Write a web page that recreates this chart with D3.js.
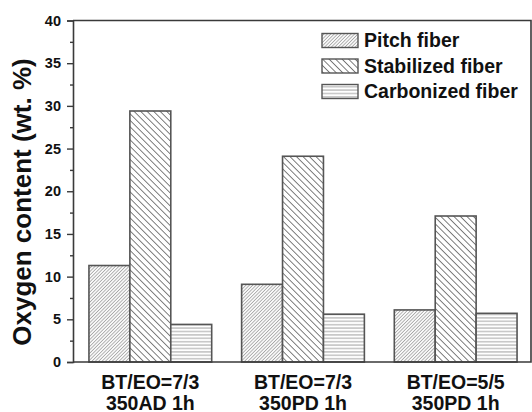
<!DOCTYPE html>
<html>
<head>
<meta charset="utf-8">
<script src="https://cdn.jsdelivr.net/npm/d3@7"></script>
<style>
  html, body { margin: 0; padding: 0; background: #fff; }
  svg { display: block; font-family: "Liberation Sans", Arial, sans-serif; font-weight: bold; }
</style>
</head>
<body>
<svg id="chart" width="532" height="412"></svg>
<script>
// Sample groups (two-line labels) and oxygen content per fiber stage
const groups = ["BT/EO=7/3|350AD 1h", "BT/EO=7/3|350PD 1h", "BT/EO=5/5|350PD 1h"];
const seriesNames = ["Pitch fiber", "Stabilized fiber", "Carbonized fiber"];
const pitch = [11.3, 9.1, 6.1];
const stabilized = [29.4, 24.1, 17.1];
const carbonized = [4.4, 5.6, 5.7];
const yTicks = [0, 5, 10, 15, 20, 25, 30, 35, 40];
const yMinorTicks = [2.5, 7.5, 12.5, 17.5, 22.5, 27.5, 32.5, 37.5];

const seriesValues = [pitch, stabilized, carbonized];
const patternIds = ["pat-pitch", "pat-stab", "pat-carb"];

const svg = d3.select("#chart");
const plotLeft = 73, plotRight = 531, plotTop = 20.5, plotBottom = 362;

// Hatch patterns
const defs = svg.append("defs");
function hatch(id, spacing, angle, color, width) {
  const p = defs.append("pattern")
    .attr("id", id)
    .attr("patternUnits", "userSpaceOnUse")
    .attr("width", spacing)
    .attr("height", 10)
    .attr("patternTransform", `rotate(${angle})`);
  p.append("rect").attr("width", spacing).attr("height", 10).attr("fill", "#fff");
  p.append("line")
    .attr("x1", spacing / 2).attr("y1", 0)
    .attr("x2", spacing / 2).attr("y2", 10)
    .attr("stroke", color).attr("stroke-width", width);
}
hatch("pat-pitch", 2.4, 45, "#a6a6a6", 0.9);
hatch("pat-stab", 4.6, -45, "#747474", 0.95);
hatch("pat-carb", 3.4, 90, "#a4a4a4", 1);

// Scales
const y = d3.scaleLinear().domain([0, 40]).range([plotBottom, plotTop]);
const x0 = d3.scaleBand().domain(groups).range([72, 534])
  .paddingInner(0.196).paddingOuter(0.111);
const x1 = d3.scaleBand().domain(seriesNames).range([0, x0.bandwidth()]).padding(0);

// Bars
const g = svg.append("g");
groups.forEach((grp, gi) => {
  seriesNames.forEach((s, si) => {
    const v = seriesValues[si][gi];
    g.append("rect")
      .attr("x", x0(grp) + x1(s))
      .attr("y", y(v))
      .attr("width", x1.bandwidth())
      .attr("height", y(0) - y(v))
      .attr("fill", `url(#${patternIds[si]})`)
      .attr("stroke", "#555")
      .attr("stroke-width", 1.6);
  });
});

// Frame (top, right, bottom lines)
svg.append("path")
  .attr("d", `M${plotLeft},${plotTop}H${plotRight}V${plotBottom}H${plotLeft}`)
  .attr("fill", "none").attr("stroke", "#3a3a3a").attr("stroke-width", 1.6);

// Y axis with major and minor ticks
const yAxis = svg.append("g").attr("transform", `translate(${plotLeft},0)`)
  .call(d3.axisLeft(y).tickValues(yTicks).tickSize(6).tickPadding(6).tickFormat(d3.format("d")));
yAxis.select(".domain").attr("stroke", "#3a3a3a").attr("stroke-width", 1.6);
yAxis.selectAll(".tick line").attr("stroke", "#3a3a3a").attr("stroke-width", 1.4);
yAxis.selectAll(".tick text")
  .attr("font-size", 14.5).attr("font-weight", "bold").attr("fill", "#111")
  .attr("font-family", "Liberation Sans, Arial, sans-serif");

const yMinor = svg.append("g").attr("transform", `translate(${plotLeft},0)`)
  .call(d3.axisLeft(y).tickValues(yMinorTicks).tickSize(3).tickFormat(""));
yMinor.select(".domain").remove();
yMinor.selectAll(".tick line").attr("stroke", "#3a3a3a").attr("stroke-width", 1.4);

// Y axis title
svg.append("text")
  .attr("transform", `translate(31,202) rotate(-90)`)
  .attr("text-anchor", "middle")
  .attr("font-size", 26)
  .attr("fill", "#111")
  .text("Oxygen content (wt. %)");

// X category labels
groups.forEach(grp => {
  const [l1, l2] = grp.split("|");
  const cx = x0(grp) + x0.bandwidth() / 2;
  const t = svg.append("text")
    .attr("text-anchor", "middle")
    .attr("font-size", 19.5)
    .attr("fill", "#111");
  t.append("tspan").attr("x", cx).attr("y", 388.5).text(l1);
  t.append("tspan").attr("x", cx).attr("y", 409.5).text(l2);
});

// Legend
const legend = svg.append("g");
seriesNames.forEach((s, i) => {
  const ly = 33.5 + i * 25.5;
  legend.append("rect")
    .attr("x", 322).attr("y", ly)
    .attr("width", 36).attr("height", 14)
    .attr("fill", `url(#${patternIds[i]})`)
    .attr("stroke", "#555").attr("stroke-width", 1.4);
  legend.append("text")
    .attr("x", 364).attr("y", ly + 13.5)
    .attr("font-size", 19.5)
    .attr("fill", "#111")
    .text(s);
});
</script>
</body>
</html>
